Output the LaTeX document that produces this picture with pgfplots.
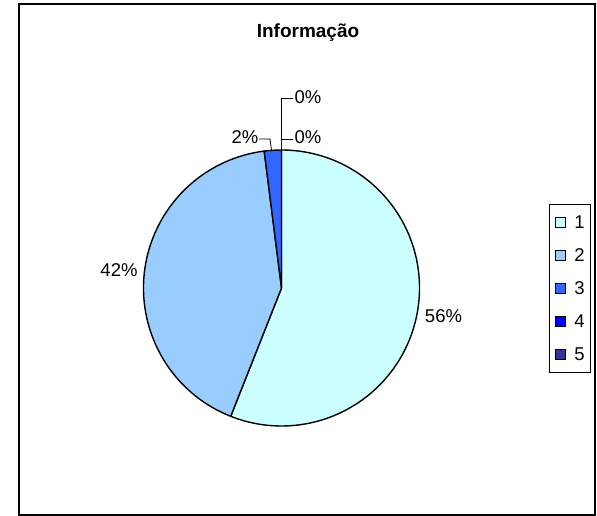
\documentclass[border=0pt]{standalone}
\usepackage{pgfplots}
\usepackage{pgfplotstable}
\pgfplotsset{compat=1.18}
\usepackage{fontspec}
\setmainfont{Liberation Sans}

\definecolor{s1}{HTML}{CCFFFF}
\definecolor{s2}{HTML}{99CCFF}
\definecolor{s3}{HTML}{3366FF}
\definecolor{s4}{HTML}{0000FF}
\definecolor{s5}{HTML}{333399}

% answers per category
\pgfplotstableread{
cat count
1 28
2 21
3 1
4 0
5 0
}\pietable

\pgfplotstablegetelem{0}{count}\of\pietable\pgfmathsetmacro\cA{\pgfplotsretval}
\pgfplotstablegetelem{1}{count}\of\pietable\pgfmathsetmacro\cB{\pgfplotsretval}
\pgfplotstablegetelem{2}{count}\of\pietable\pgfmathsetmacro\cC{\pgfplotsretval}
\pgfplotstablegetelem{3}{count}\of\pietable\pgfmathsetmacro\cD{\pgfplotsretval}
\pgfplotstablegetelem{4}{count}\of\pietable\pgfmathsetmacro\cE{\pgfplotsretval}
\pgfmathsetmacro\tot{\cA+\cB+\cC+\cD+\cE}
% cumulative angles, clockwise from 12 o'clock
\pgfmathsetmacro\aA{0}
\pgfmathsetmacro\aB{360*(\cA/\tot)}
\pgfmathsetmacro\aC{360*((\cA+\cB)/\tot)}
\pgfmathsetmacro\aD{360*((\cA+\cB+\cC)/\tot)}
\pgfmathsetmacro\aE{360*((\cA+\cB+\cC+\cD)/\tot)}
\pgfmathsetmacro\aF{360}

\newcommand\slice[3]{%
  \fill[#3, draw=black, line width=1.4pt, line join=round]
    (axis cs:281.5,288) -- ++({90-#1}:138pt)
    arc[start angle={90-#1}, end angle={90-#2}, radius=138pt] -- cycle;}

\begin{document}
\begin{tikzpicture}
\begin{axis}[
  width=597pt, height=516pt, scale only axis,
  xmin=0, xmax=597, ymin=0, ymax=516, y dir=reverse,
  hide axis, clip=false,
  legend style={at={(axis cs:549,204)}, anchor=north west,
    draw=black, line width=0.8pt, inner xsep=6pt, inner ysep=11.5pt,
    row sep=20pt, font=\fontsize{18.5}{18.5}\selectfont,
    nodes={inner sep=0pt, text height=13pt, text depth=0pt},
    /tikz/every odd column/.append style={column sep=8pt}},
  legend cell align=left,
  legend image code/.code={\draw[#1, draw=black, line width=0.9pt] (0pt,-5pt) rectangle (10pt,5pt);},
]
\path (axis cs:0,0) rectangle (axis cs:597,516);
\draw[line width=1.3pt] (axis cs:19,4) rectangle (axis cs:595,515);

\slice{\aA}{\aB}{s1}
\slice{\aB}{\aC}{s2}
\slice{\aC}{\aD}{s3}
\slice{\aD}{\aE}{s4}
\slice{\aE}{\aF}{s5}

\addlegendimage{fill=s1}\addlegendentry{1}
\addlegendimage{fill=s2}\addlegendentry{2}
\addlegendimage{fill=s3}\addlegendentry{3}
\addlegendimage{fill=s4}\addlegendentry{4}
\addlegendimage{fill=s5}\addlegendentry{5}

\node[anchor=base, font=\bfseries\fontsize{19}{19}\selectfont] at (axis cs:308,37.3) {Informação};

\begin{scope}[font=\fontsize{18.5}{18.5}\selectfont]
\node[anchor=base, inner sep=0pt] at (axis cs:443.5,322) {56\%};
\node[anchor=base, inner sep=0pt] at (axis cs:119,276) {42\%};
\node[anchor=base, inner sep=0pt] at (axis cs:245,144) {2\%};
\node[anchor=base, inner sep=0pt] at (axis cs:308,144) {0\%};
\node[anchor=base, inner sep=0pt] at (axis cs:308,104) {0\%};
\end{scope}

\draw[line width=0.8pt] (axis cs:259,139) -- (axis cs:270,139) -- (axis cs:271.5,150);
\draw[line width=0.8pt] (axis cs:293,139) -- (axis cs:281.5,139);
\draw[line width=0.8pt] (axis cs:293,98) -- (axis cs:281.5,98) -- (axis cs:281.5,150);
\end{axis}
\end{tikzpicture}
\end{document}
